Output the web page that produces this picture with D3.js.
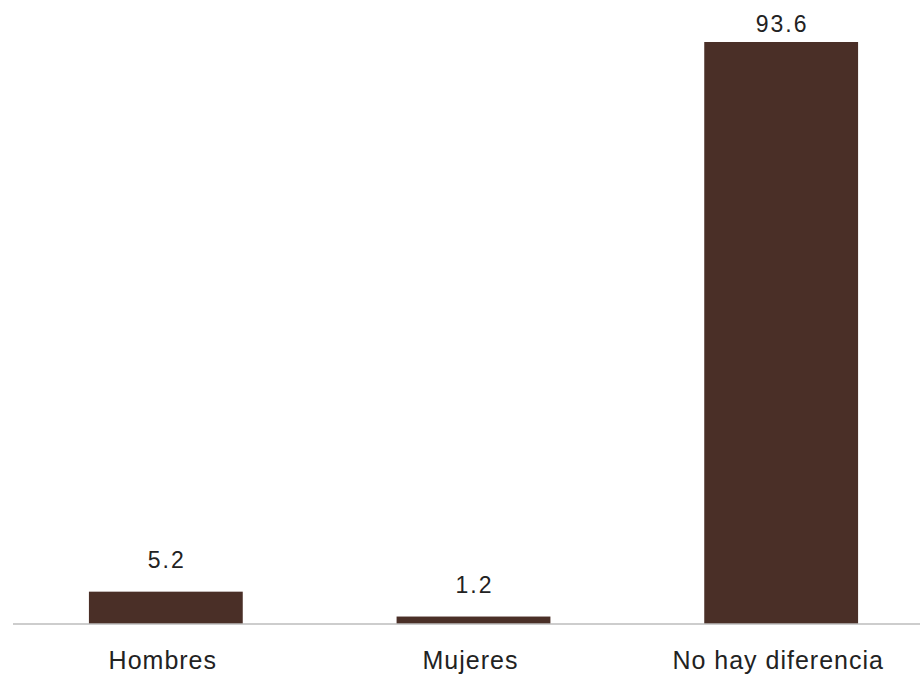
<!DOCTYPE html>
<html><head><meta charset="utf-8">
<script src="https://cdn.jsdelivr.net/npm/d3@7"></script>
<style>body{margin:0;background:#fff}</style>
</head><body>
<svg id="c" width="920" height="676"></svg>
<script>
const categories = ["Hombres", "Mujeres", "No hay diferencia"];
const values = [5.2, 1.2, 93.6];
const valueLabels = ["5.2", "1.2", "93.6"];

const svg = d3.select("#c");
const x = d3.scaleBand().domain(categories).range([12, 935]).paddingInner(0.5).paddingOuter(0.25);
const y = d3.scaleLinear().domain([0, 93.6]).range([624, 42]);
const font = "'Liberation Sans', Arial, Helvetica, sans-serif";

svg.selectAll("rect.bar").data(categories).enter().append("rect")
  .attr("x", d => x(d)).attr("width", x.bandwidth())
  .attr("y", (d,i) => y(values[i])).attr("height", (d,i) => y(0) - y(values[i]))
  .attr("fill", "#4a2f27");

svg.append("line").attr("x1", 13).attr("x2", 920).attr("y1", y(0)).attr("y2", y(0))
  .attr("stroke", "#bdbdbd").attr("stroke-width", 1.5);

svg.selectAll("text.val").data(categories).enter().append("text")
  .attr("x", d => x(d) + x.bandwidth()/2 + 1)
  .attr("y", (d,i) => Math.max(y(values[i]) - 24, 32))
  .attr("text-anchor", "middle").attr("font-family", font).attr("font-size", 23)
  .attr("letter-spacing", "2px").attr("fill", "#222")
  .text((d,i) => valueLabels[i]);

svg.selectAll("text.cat").data(categories).enter().append("text")
  .attr("x", d => x(d) + x.bandwidth()/2 - 3)
  .attr("y", 669)
  .attr("text-anchor", "middle").attr("font-family", font).attr("font-size", 25)
  .attr("letter-spacing", "1px").attr("fill", "#222")
  .text(d => d);
</script>
</body></html>
